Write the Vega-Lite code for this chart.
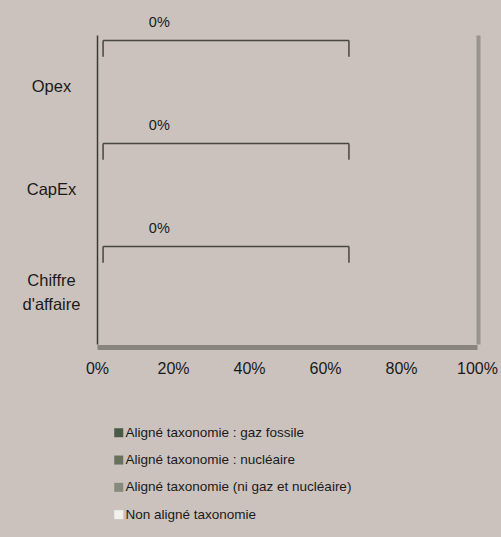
{
  "$schema": "https://vega.github.io/schema/vega-lite/v6.json",
  "autosize": {"type": "none"},
  "padding": {"left": 97, "top": 35, "right": 24, "bottom": 193},
  "width": 380,
  "height": 309,
  "background": "#cbc2bd",
  "config": {
    "view": {"stroke": null},
    "font": "Liberation Sans",
    "text": {"font": "Liberation Sans"}
  },
  "datasets": {
    "bars": [
      {"cat": "Opex", "serie": "Aligné taxonomie : gaz fossile", "value": 0},
      {"cat": "Opex", "serie": "Aligné taxonomie : nucléaire", "value": 0},
      {"cat": "Opex", "serie": "Aligné taxonomie (ni gaz et nucléaire)", "value": 0},
      {"cat": "Opex", "serie": "Non aligné taxonomie", "value": 0},
      {"cat": "CapEx", "serie": "Aligné taxonomie : gaz fossile", "value": 0},
      {"cat": "CapEx", "serie": "Aligné taxonomie : nucléaire", "value": 0},
      {"cat": "CapEx", "serie": "Aligné taxonomie (ni gaz et nucléaire)", "value": 0},
      {"cat": "CapEx", "serie": "Non aligné taxonomie", "value": 0},
      {"cat": "Chiffre d'affaire", "serie": "Aligné taxonomie : gaz fossile", "value": 0},
      {"cat": "Chiffre d'affaire", "serie": "Aligné taxonomie : nucléaire", "value": 0},
      {"cat": "Chiffre d'affaire", "serie": "Aligné taxonomie (ni gaz et nucléaire)", "value": 0},
      {"cat": "Chiffre d'affaire", "serie": "Non aligné taxonomie", "value": 0}
    ],
    "brackets": [
      {"cat": "Opex", "start": 1.6, "end": 66.3, "labelpos": 16.4, "label": "0%"},
      {"cat": "CapEx", "start": 1.6, "end": 66.3, "labelpos": 16.4, "label": "0%"},
      {"cat": "Chiffre d'affaire", "start": 1.6, "end": 66.3, "labelpos": 16.4, "label": "0%"}
    ]
  },
  "layer": [
    {
      "data": {"name": "bars"},
      "mark": {"type": "bar"},
      "encoding": {
        "y": {
          "field": "cat", "type": "nominal", "sort": ["Opex", "CapEx", "Chiffre d'affaire"],
          "scale": {"paddingInner": 0, "paddingOuter": 0},
          "axis": {
            "title": null, "orient": "left", "ticks": false, "tickSize": 0,
            "labelPadding": 46, "labelAlign": "center", "labelBaseline": "middle",
            "labelFontSize": 16.5, "labelColor": "#1a1a1a",
            "labelExpr": "split(datum.value, ' ')", "labelLineHeight": 24,
            "labelOffset": {"condition": {"test": "indexof(datum.value, ' ') > 0", "value": -12}, "value": 0},
            "domainColor": "#3d3936", "domainWidth": 1.5
          }
        },
        "x": {
          "field": "value", "type": "quantitative", "stack": "zero",
          "scale": {"domain": [0, 100], "nice": false},
          "axis": {
            "title": null, "values": [0, 20, 40, 60, 80, 100],
            "labelExpr": "datum.value + '%'", "grid": false, "ticks": false,
            "tickSize": 0, "labelPadding": 13, "labelFontSize": 16,
            "labelColor": "#1a1a1a", "domainColor": "#8a847f", "domainWidth": 5,
            "offset": 3, "labelFlush": false
          }
        },
        "color": {
          "field": "serie", "type": "nominal",
          "scale": {
            "domain": ["Aligné taxonomie : gaz fossile", "Aligné taxonomie : nucléaire", "Aligné taxonomie (ni gaz et nucléaire)", "Non aligné taxonomie"],
            "range": ["#4b5a44", "#68715e", "#858a7a", "#f3f1f0"]
          },
          "legend": {
            "title": null, "orient": "none", "legendX": 15, "legendY": 391,
            "direction": "vertical", "symbolType": "square", "symbolSize": 81,
            "symbolStrokeWidth": 0, "labelFontSize": 13.5, "labelColor": "#1a1a1a",
            "rowPadding": 12.3, "labelOffset": 0, "labelLimit": 400
          }
        }
      }
    },
    {
      "data": {"name": "brackets"},
      "mark": {"type": "rule", "color": "#4a4542", "strokeWidth": 1.5},
      "encoding": {
        "y": {"field": "cat", "type": "nominal", "bandPosition": 0.053, "sort": ["Opex", "CapEx", "Chiffre d'affaire"],
              "axis": {"orient": "right", "labels": false, "ticks": false, "title": null,
                       "domainColor": "#9a938e", "domainWidth": 4, "offset": 1}},
        "x": {"field": "start", "type": "quantitative"},
        "x2": {"field": "end"}
      }
    },
    {
      "data": {"name": "brackets"},
      "mark": {"type": "rule", "color": "#4a4542", "strokeWidth": 1.5},
      "encoding": {
        "y": {"field": "cat", "type": "nominal", "bandPosition": 0.053, "sort": ["Opex", "CapEx", "Chiffre d'affaire"], "axis": null},
        "y2": {"field": "cat", "bandPosition": 0.21},
        "x": {"field": "start", "type": "quantitative"}
      }
    },
    {
      "data": {"name": "brackets"},
      "mark": {"type": "rule", "color": "#4a4542", "strokeWidth": 1.5},
      "encoding": {
        "y": {"field": "cat", "type": "nominal", "bandPosition": 0.053, "sort": ["Opex", "CapEx", "Chiffre d'affaire"], "axis": null},
        "y2": {"field": "cat", "bandPosition": 0.21},
        "x": {"field": "end", "type": "quantitative"}
      }
    },
    {
      "data": {"name": "brackets"},
      "mark": {"type": "text", "fontSize": 14.5, "color": "#1a1a1a", "baseline": "middle", "align": "center"},
      "encoding": {
        "y": {"field": "cat", "type": "nominal", "bandPosition": -0.117, "sort": ["Opex", "CapEx", "Chiffre d'affaire"], "axis": null},
        "x": {"field": "labelpos", "type": "quantitative"},
        "text": {"field": "label"}
      }
    }
  ],
  "resolve": {"axis": {"y": "independent"}}
}
